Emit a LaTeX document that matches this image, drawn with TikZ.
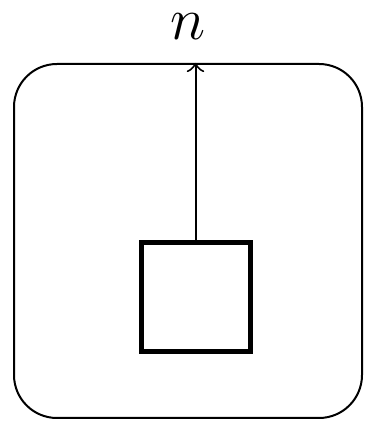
\documentclass[tikz,border=0pt]{standalone}
\usepackage{amsmath}
\usepackage{tikz}
\usetikzlibrary{positioning}
\tikzset{
  plate/.style={draw, rounded corners=8.6pt, line width=0.4pt, minimum width=69.6pt, minimum height=70.8pt, inner sep=0pt},
  factor/.style={draw, line width=1pt, minimum size=21.8pt, inner sep=0pt},
  edge/.style={->, line width=0.4pt},
}

\begin{document}
\begin{tikzpicture}
  \useasboundingbox (0,0) rectangle (74.8pt,85.8pt);
  \node[plate] (pl) at (37.6pt,37.6pt) {};
  \node[factor] (f) at (39.1pt,26.3pt) {};
  \node[above=4.4pt of pl.north, inner sep=0pt, font=\fontsize{13}{15}\selectfont] (lbl) {$n$};
  \draw[edge] (f.north) -- (f.north |- pl.north);
\end{tikzpicture}
\end{document}
